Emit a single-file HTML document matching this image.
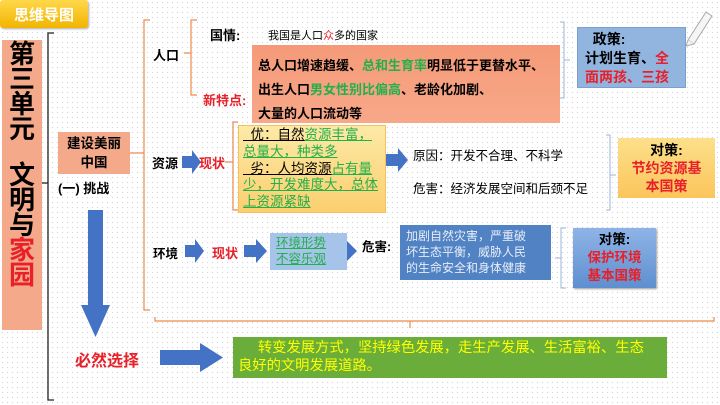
<!DOCTYPE html>
<html><head><meta charset="utf-8"><style>
*{margin:0;padding:0;box-sizing:border-box}
body{width:720px;height:405px;overflow:hidden;position:relative;font-family:"Liberation Sans","Noto Sans CJK SC",sans-serif;background:#fff;background-image:radial-gradient(#d4d4d4 0.7px,transparent 0.8px);background-size:5px 5px}
.a{position:absolute}
.t{position:absolute;white-space:nowrap}
.r{color:#e8202a}.g{color:#22b04a}.u{text-decoration:underline}
.b{font-weight:bold}
</style></head><body>
<div class="a" style="left:0;top:0;width:88px;height:28px;background:linear-gradient(#ffd84a,#f2b400);border-radius:3px;box-shadow:1px 1px 2px #aaa"></div>
<div class="t b" style="left:14px;top:4px;font-size:15px;color:#fff">思维导图</div>

<div class="a" style="left:2px;top:40px;width:40px;height:290px;background:#f4a98a"></div>
<div class="t b" style="left:6px;top:42px;font-size:26px;line-height:25px;width:32px;white-space:normal;text-align:center">第三单元</div>
<div class="t b" style="left:6px;top:163px;font-size:26px;line-height:25px;width:32px;white-space:normal;text-align:center">文明与<span class="r">家园</span></div>

<svg class="a" style="left:0;top:0" width="720" height="405">
<g fill="none" stroke="#222" stroke-width="1.3"><path d="M54 33H48V400H54"/><path d="M42 183H48"/></g>
<g fill="none" stroke="#ec8a4c" stroke-width="1.2">
<path d="M150 20H144V310H150"/><path d="M130 153H144"/>
<path d="M184 53H191"/><path d="M197 20H191V95H197"/>
<path d="M225 162H233"/><path d="M238 122H233V210H238"/>
</g>
<g fill="none" stroke="#9bb4d8" stroke-width="1">
<path d="M560 22H564V98H560"/><path d="M564 60H570"/>
<path d="M606 135H610V210H606"/><path d="M610 175H616"/>
<path d="M566 228H561V288H566"/><path d="M561 258H555"/>
</g>
<g fill="none" stroke="#ec8a4c" stroke-width="1.2"><path d="M155 317V321H714V317"/><path d="M410 321V328"/></g>
<g fill="#4472c4">
<path d="M88 210H103V305H110L95.5 337L81 305H88Z"/>
<path d="M160 350H200V343L223 357.5L200 372V365H160Z"/>
<path d="M182 156H192V150L201 162L192 174V168H182Z"/>
<path d="M386 154H398V148L408 160L398 172V166H386Z"/>
<path d="M185 245H195V239L204 251L195 263V257H185Z"/>
<path d="M244 245H256V239L267 251L256 263V257H244Z"/>
<path d="M333 245H345V239L357 251L345 263V257H333Z"/>
</g>
<g stroke="#aaa" fill="#f5f5f5"><path d="M688 40L706 12L712 16L694 44Z"/><path d="M688 40L686 46L694 44"/></g>
</svg>

<div class="a" style="left:58px;top:132px;width:72px;height:42px;background:#f4a98a"></div>
<div class="t b" style="left:64px;top:134px;width:60px;text-align:center;font-size:13.5px;line-height:19px;white-space:normal">建设美丽中国</div>
<div class="t b" style="left:58px;top:178px;font-size:13px">(一) 挑战</div>
<div class="t b r" style="left:75px;top:347px;font-size:16px">必然选择</div>

<div class="a" style="left:233px;top:337px;width:434px;height:41px;background:#6aad3a"></div>
<div class="t" style="left:238px;top:339px;font-size:14.3px;line-height:18px;color:#ffff00">&nbsp;&nbsp;&nbsp;&nbsp;&nbsp;转变发展方式，坚持绿色发展，走生产发展、生活富裕、生态<br>良好的文明发展道路。</div>

<div class="t b" style="left:153px;top:45px;font-size:13px">人口</div>
<div class="t b" style="left:210px;top:25px;font-size:13px">国情:</div>
<div class="t" style="left:268px;top:27px;font-size:11px">我国是人口<span class="r">众</span>多的国家</div>
<div class="a" style="left:252px;top:45px;width:308px;height:78px;background:linear-gradient(#f59a78,#f7a889)"></div>
<div class="t b" style="left:258px;top:54px;font-size:13px;line-height:24px">总人口增速趋缓、<span class="g">总和生育率</span>明显低于更替水平、<br>出生人口<span class="g">男女性别比偏高</span>、老龄化加剧、<br>大量的人口流动等</div>
<div class="t b r" style="left:203px;top:90px;font-size:13px">新特点:</div>
<div class="a" style="left:577px;top:27px;width:109px;height:61px;background:#92b5e0;border:1px solid #7ba0d0"></div>
<div class="t b" style="left:585px;top:30px;font-size:14px;line-height:19px">&nbsp;&nbsp;政策:<br>计划生育、<span class="r">全</span><br><span class="r">面两孩、三孩</span></div>

<div class="t b" style="left:152px;top:153px;font-size:13px">资源</div>
<div class="t b r" style="left:199px;top:153px;font-size:13px">现状</div>
<div class="a" style="left:238px;top:125px;width:148px;height:88px;background:linear-gradient(#fde9a6,#fbcf6f);border:1px solid #f4c060"></div>
<div class="t" style="left:243px;top:127px;font-size:13.5px;line-height:16.8px;width:141px;white-space:normal"><span class="u">&nbsp;&nbsp;优：自然</span><span class="u g">资源丰富，</span><br><span class="u g">总量大，种类多</span><br><span class="u">&nbsp;&nbsp;劣：人均资源</span><span class="u g">占有量少，开发难度大，总体上资源紧缺</span></div>
<div class="t" style="left:413px;top:145px;font-size:12.5px">原因：开发不合理、不科学</div>
<div class="t" style="left:413px;top:178px;font-size:12.5px">危害：经济发展空间和后颈不足</div>
<div class="a" style="left:618px;top:138px;width:97px;height:60px;background:linear-gradient(#fde08a,#fbc55c)"></div>
<div class="t b" style="left:618px;top:141px;width:97px;text-align:center;font-size:14px;line-height:18px">对策:<br><span class="r">节约资源基<br>本国策</span></div>

<div class="t b" style="left:153px;top:243px;font-size:12.5px">环境</div>
<div class="t b r" style="left:212px;top:243px;font-size:13px">现状</div>
<div class="a" style="left:270px;top:233px;width:77px;height:37px;background:#a6c3ea"></div>
<div class="t u g" style="left:276px;top:235px;font-size:12.5px;line-height:16px">环境形势<br>不容乐观</div>
<div class="t b" style="left:362px;top:236px;font-size:12.5px">危害:</div>
<div class="a" style="left:400px;top:225px;width:151px;height:55px;background:#5182c4"></div>
<div class="t" style="left:406px;top:228px;font-size:12px;line-height:16px;color:#e8eef8">加剧自然灾害，严重破<br>坏生态平衡，威胁人民<br>的生命安全和身体健康</div>
<div class="a" style="left:573px;top:228px;width:83px;height:60px;background:linear-gradient(#8fb4e6,#5f8fd0);box-shadow:1px 1px 2px #999"></div>
<div class="t b" style="left:573px;top:231px;width:83px;text-align:center;font-size:13.5px;line-height:18px">对策:<br><span class="r">保护环境<br>基本国策</span></div>
</body></html>
